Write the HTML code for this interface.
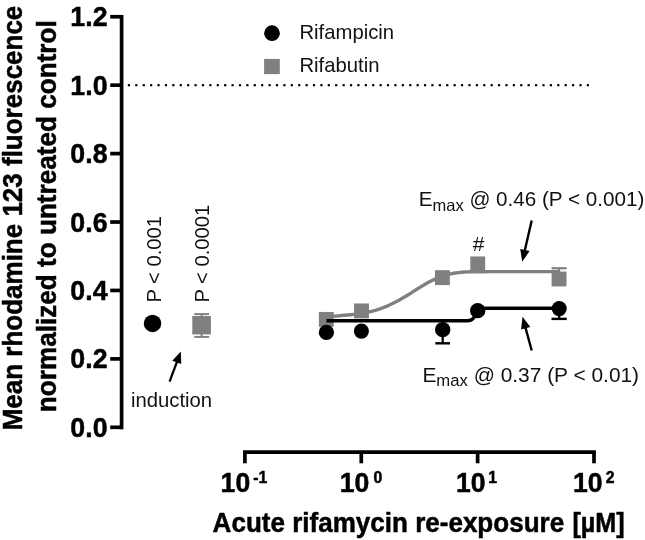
<!DOCTYPE html>
<html><head><meta charset="utf-8"><title>chart</title>
<style>
html,body{margin:0;padding:0;background:#fff;}
svg{display:block;will-change:transform;}
text{font-family:"Liberation Sans",sans-serif;}
.b{font-weight:bold;font-size:26px;fill:#000;stroke:#000;stroke-width:0.5px;stroke-linejoin:round;}
.r{font-size:20px;fill:#111;}
</style></head>
<body>
<svg width="645" height="540" viewBox="0 0 645 540">
<rect width="645" height="540" fill="#fff"/>
<rect x="127.85" y="84.08" width="2.2" height="2.2" fill="#000"/>
<rect x="135.25" y="84.08" width="2.2" height="2.2" fill="#000"/>
<rect x="142.65" y="84.08" width="2.2" height="2.2" fill="#000"/>
<rect x="150.06" y="84.08" width="2.2" height="2.2" fill="#000"/>
<rect x="157.46" y="84.08" width="2.2" height="2.2" fill="#000"/>
<rect x="164.86" y="84.08" width="2.2" height="2.2" fill="#000"/>
<rect x="172.26" y="84.08" width="2.2" height="2.2" fill="#000"/>
<rect x="179.67" y="84.08" width="2.2" height="2.2" fill="#000"/>
<rect x="187.07" y="84.08" width="2.2" height="2.2" fill="#000"/>
<rect x="194.47" y="84.08" width="2.2" height="2.2" fill="#000"/>
<rect x="201.87" y="84.08" width="2.2" height="2.2" fill="#000"/>
<rect x="209.28" y="84.08" width="2.2" height="2.2" fill="#000"/>
<rect x="216.68" y="84.08" width="2.2" height="2.2" fill="#000"/>
<rect x="224.08" y="84.08" width="2.2" height="2.2" fill="#000"/>
<rect x="231.48" y="84.08" width="2.2" height="2.2" fill="#000"/>
<rect x="238.89" y="84.08" width="2.2" height="2.2" fill="#000"/>
<rect x="246.29" y="84.08" width="2.2" height="2.2" fill="#000"/>
<rect x="253.69" y="84.08" width="2.2" height="2.2" fill="#000"/>
<rect x="261.09" y="84.08" width="2.2" height="2.2" fill="#000"/>
<rect x="268.50" y="84.08" width="2.2" height="2.2" fill="#000"/>
<rect x="275.90" y="84.08" width="2.2" height="2.2" fill="#000"/>
<rect x="283.30" y="84.08" width="2.2" height="2.2" fill="#000"/>
<rect x="290.70" y="84.08" width="2.2" height="2.2" fill="#000"/>
<rect x="298.11" y="84.08" width="2.2" height="2.2" fill="#000"/>
<rect x="305.51" y="84.08" width="2.2" height="2.2" fill="#000"/>
<rect x="312.91" y="84.08" width="2.2" height="2.2" fill="#000"/>
<rect x="320.31" y="84.08" width="2.2" height="2.2" fill="#000"/>
<rect x="327.72" y="84.08" width="2.2" height="2.2" fill="#000"/>
<rect x="335.12" y="84.08" width="2.2" height="2.2" fill="#000"/>
<rect x="342.52" y="84.08" width="2.2" height="2.2" fill="#000"/>
<rect x="349.92" y="84.08" width="2.2" height="2.2" fill="#000"/>
<rect x="357.32" y="84.08" width="2.2" height="2.2" fill="#000"/>
<rect x="364.73" y="84.08" width="2.2" height="2.2" fill="#000"/>
<rect x="372.13" y="84.08" width="2.2" height="2.2" fill="#000"/>
<rect x="379.53" y="84.08" width="2.2" height="2.2" fill="#000"/>
<rect x="386.93" y="84.08" width="2.2" height="2.2" fill="#000"/>
<rect x="394.34" y="84.08" width="2.2" height="2.2" fill="#000"/>
<rect x="401.74" y="84.08" width="2.2" height="2.2" fill="#000"/>
<rect x="409.14" y="84.08" width="2.2" height="2.2" fill="#000"/>
<rect x="416.54" y="84.08" width="2.2" height="2.2" fill="#000"/>
<rect x="423.95" y="84.08" width="2.2" height="2.2" fill="#000"/>
<rect x="431.35" y="84.08" width="2.2" height="2.2" fill="#000"/>
<rect x="438.75" y="84.08" width="2.2" height="2.2" fill="#000"/>
<rect x="446.15" y="84.08" width="2.2" height="2.2" fill="#000"/>
<rect x="453.56" y="84.08" width="2.2" height="2.2" fill="#000"/>
<rect x="460.96" y="84.08" width="2.2" height="2.2" fill="#000"/>
<rect x="468.36" y="84.08" width="2.2" height="2.2" fill="#000"/>
<rect x="475.76" y="84.08" width="2.2" height="2.2" fill="#000"/>
<rect x="483.17" y="84.08" width="2.2" height="2.2" fill="#000"/>
<rect x="490.57" y="84.08" width="2.2" height="2.2" fill="#000"/>
<rect x="497.97" y="84.08" width="2.2" height="2.2" fill="#000"/>
<rect x="505.37" y="84.08" width="2.2" height="2.2" fill="#000"/>
<rect x="512.78" y="84.08" width="2.2" height="2.2" fill="#000"/>
<rect x="520.18" y="84.08" width="2.2" height="2.2" fill="#000"/>
<rect x="527.58" y="84.08" width="2.2" height="2.2" fill="#000"/>
<rect x="534.98" y="84.08" width="2.2" height="2.2" fill="#000"/>
<rect x="542.39" y="84.08" width="2.2" height="2.2" fill="#000"/>
<rect x="549.79" y="84.08" width="2.2" height="2.2" fill="#000"/>
<rect x="557.19" y="84.08" width="2.2" height="2.2" fill="#000"/>
<rect x="564.59" y="84.08" width="2.2" height="2.2" fill="#000"/>
<rect x="572.00" y="84.08" width="2.2" height="2.2" fill="#000"/>
<rect x="579.40" y="84.08" width="2.2" height="2.2" fill="#000"/>
<rect x="586.80" y="84.08" width="2.2" height="2.2" fill="#000"/>
<line x1="121.6" y1="14.90" x2="121.6" y2="429.15" stroke="#000" stroke-width="3.7"/>
<line x1="110.2" y1="427.30" x2="121.6" y2="427.30" stroke="#000" stroke-width="3.7"/>
<text class="b" style="font-size:28.5px" transform="translate(107.50,436.80) scale(0.938,1)" text-anchor="end">0.0</text>
<line x1="110.2" y1="358.88" x2="121.6" y2="358.88" stroke="#000" stroke-width="3.7"/>
<text class="b" style="font-size:28.5px" transform="translate(107.50,368.38) scale(0.938,1)" text-anchor="end">0.2</text>
<line x1="110.2" y1="290.45" x2="121.6" y2="290.45" stroke="#000" stroke-width="3.7"/>
<text class="b" style="font-size:28.5px" transform="translate(107.50,299.95) scale(0.938,1)" text-anchor="end">0.4</text>
<line x1="110.2" y1="222.02" x2="121.6" y2="222.02" stroke="#000" stroke-width="3.7"/>
<text class="b" style="font-size:28.5px" transform="translate(107.50,231.52) scale(0.938,1)" text-anchor="end">0.6</text>
<line x1="110.2" y1="153.60" x2="121.6" y2="153.60" stroke="#000" stroke-width="3.7"/>
<text class="b" style="font-size:28.5px" transform="translate(107.50,163.10) scale(0.938,1)" text-anchor="end">0.8</text>
<line x1="110.2" y1="85.18" x2="121.6" y2="85.18" stroke="#000" stroke-width="3.7"/>
<text class="b" style="font-size:28.5px" transform="translate(107.50,94.68) scale(0.938,1)" text-anchor="end">1.0</text>
<line x1="110.2" y1="16.75" x2="121.6" y2="16.75" stroke="#000" stroke-width="3.7"/>
<text class="b" style="font-size:28.5px" transform="translate(107.50,26.25) scale(0.938,1)" text-anchor="end">1.2</text>
<text class="b" style="font-size:27.8px" transform="translate(22.20,218.00) rotate(-90) scale(0.935,1)" text-anchor="middle">Mean rhodamine 123 fluorescence</text>
<text class="b" style="font-size:27.8px" transform="translate(55.80,216.20) rotate(-90) scale(0.94,1)" text-anchor="middle">normalized to untreated control</text>
<line x1="243.05" y1="452.05" x2="595.85" y2="452.05" stroke="#000" stroke-width="3.7"/>
<line x1="244.90" y1="452.05" x2="244.90" y2="463.3" stroke="#000" stroke-width="3.7"/>
<line x1="361.27" y1="452.05" x2="361.27" y2="463.3" stroke="#000" stroke-width="3.7"/>
<line x1="477.63" y1="452.05" x2="477.63" y2="463.3" stroke="#000" stroke-width="3.7"/>
<line x1="594.00" y1="452.05" x2="594.00" y2="463.3" stroke="#000" stroke-width="3.7"/>
<text class="b" style="font-size:27.8px" transform="translate(220.60,491.80) scale(0.957,1)" text-anchor="start">10</text>
<text class="b" style="font-size:16.5px" transform="translate(253.20,482.80) scale(0.957,1)" text-anchor="start">-1</text>
<text class="b" style="font-size:27.8px" transform="translate(339.70,491.80) scale(0.957,1)" text-anchor="start">10</text>
<text class="b" style="font-size:16.5px" transform="translate(373.50,482.80) scale(0.957,1)" text-anchor="start">0</text>
<text class="b" style="font-size:27.8px" transform="translate(456.00,491.80) scale(0.957,1)" text-anchor="start">10</text>
<text class="b" style="font-size:16.5px" transform="translate(488.20,482.80) scale(0.957,1)" text-anchor="start">1</text>
<text class="b" style="font-size:27.8px" transform="translate(572.90,491.80) scale(0.957,1)" text-anchor="start">10</text>
<text class="b" style="font-size:16.5px" transform="translate(605.70,482.80) scale(0.957,1)" text-anchor="start">2</text>
<text class="b" style="font-size:27.8px" transform="translate(212.60,531.80) scale(0.937,1)" text-anchor="start">Acute rifamycin re-exposure</text>
<text class="b" style="font-size:27.8px" transform="translate(624.60,531.80) scale(0.905,1)" text-anchor="end">[µM]</text>
<circle cx="272" cy="33.2" r="7.85" fill="#000"/>
<rect x="264.1" y="58.9" width="15.7" height="15.2" fill="#808080"/>
<text class="r" style="font-size:20.25px" transform="translate(299.50,39.30)" text-anchor="start">Rifampicin</text>
<text class="r" style="font-size:20.25px" transform="translate(299.50,72.00)" text-anchor="start">Rifabutin</text>
<path d="M326.5,317.07 L329.5,316.71 L332.5,316.39 L335.5,316.10 L338.5,315.82 L341.5,315.56 L344.5,315.29 L347.5,315.01 L350.5,314.71 L353.5,314.39 L356.5,314.02 L359.5,313.61 L362.5,313.15 L365.5,312.62 L368.5,312.01 L371.5,311.32 L374.5,310.54 L377.5,309.66 L380.5,308.66 L383.5,307.55 L386.5,306.33 L389.5,305.00 L392.5,303.58 L395.5,302.06 L398.5,300.46 L401.5,298.78 L404.5,297.03 L407.5,295.21 L410.5,293.33 L413.5,291.43 L416.5,289.51 L419.5,287.62 L422.5,285.78 L425.5,284.02 L428.5,282.36 L431.5,280.81 L434.5,279.39 L437.5,278.09 L440.5,276.92 L443.5,275.87 L446.5,274.95 L449.5,274.17 L452.5,273.52 L455.5,273.00 L458.5,272.58 L461.5,272.27 L464.5,272.04 L467.5,271.88 L470.5,271.78 L473.5,271.72 L476.5,271.70 L479.5,271.69 L482.5,271.69 L485.5,271.68 L488.5,271.65 L559.0,271.60" fill="none" stroke="#808080" stroke-width="3.4" stroke-linejoin="round"/>
<line x1="559.1" y1="278" x2="559.1" y2="268.3" stroke="#808080" stroke-width="2.2"/>
<line x1="551.6" y1="268.25" x2="566.6" y2="268.25" stroke="#808080" stroke-width="2.2"/>
<rect x="318.85" y="311.95" width="14.9" height="14.9" fill="#808080"/>
<rect x="354.05" y="303.45" width="14.9" height="14.9" fill="#808080"/>
<rect x="434.95" y="270.20" width="14.9" height="14.9" fill="#808080"/>
<rect x="470.30" y="256.45" width="14.9" height="14.9" fill="#808080"/>
<rect x="551.60" y="271.55" width="14.9" height="14.9" fill="#808080"/>
<path d="M326.4,320.8 L467.5,320.8 Q471.2,320.8 473.2,318.4 L478,312.4 Q479.8,308.3 483,308.3 L559.4,308.3" fill="none" stroke="#000" stroke-width="3.4" stroke-linejoin="round"/>
<line x1="442.7" y1="329.7" x2="442.7" y2="343.3" stroke="#000" stroke-width="2.3"/>
<line x1="435.3" y1="343.3" x2="450.0" y2="343.3" stroke="#000" stroke-width="2.4"/>
<line x1="559.2" y1="308.6" x2="559.2" y2="318.9" stroke="#000" stroke-width="2.3"/>
<line x1="551.5" y1="318.9" x2="566.8" y2="318.9" stroke="#000" stroke-width="2.4"/>
<circle cx="326.4" cy="332.4" r="7.65" fill="#000"/>
<circle cx="361.4" cy="331.1" r="7.55" fill="#000"/>
<circle cx="442.7" cy="329.7" r="7.65" fill="#000"/>
<circle cx="477.7" cy="310.65" r="7.65" fill="#000"/>
<circle cx="559.2" cy="308.6" r="7.55" fill="#000"/>
<circle cx="152.55" cy="323.4" r="8.75" fill="#000"/>
<line x1="201.6" y1="314.1" x2="201.6" y2="336.9" stroke="#808080" stroke-width="2"/>
<line x1="194.3" y1="314.1" x2="209.1" y2="314.1" stroke="#808080" stroke-width="2"/>
<line x1="194.3" y1="336.9" x2="209.1" y2="336.9" stroke="#808080" stroke-width="2"/>
<rect x="192.3" y="316" width="18.6" height="18.4" fill="#808080"/>
<text class="r" style="font-size:20.2px" transform="translate(161.30,302.60) rotate(-90)" text-anchor="start">P &lt; 0.001</text>
<text class="r" style="font-size:20.2px" transform="translate(209.00,302.60) rotate(-90)" text-anchor="start">P &lt; 0.0001</text>
<text class="r" style="font-size:19.5px" transform="translate(131.00,406.80) scale(1.04,1)" text-anchor="start">induction</text>
<text class="r" style="font-size:21px" transform="translate(478.60,250.70)" text-anchor="middle">#</text>
<text class="r" style="font-size:20.65px" x="418.7" y="206.3">E<tspan style="font-size:16.5px" dy="4.4">max</tspan><tspan dy="-4.4"> @ 0.46 (P &lt; 0.001)</tspan></text>
<text class="r" style="font-size:20.9px" x="422.4" y="381.5">E<tspan style="font-size:16.7px" dy="4.4">max</tspan><tspan dy="-4.4"> @ 0.37 (P &lt; 0.01)</tspan></text>
<line x1="531.70" y1="220.60" x2="524.68" y2="250.98" stroke="#000" stroke-width="2.4"/>
<polygon points="522.20,261.70 520.23,248.93 529.58,251.09" fill="#000"/>
<line x1="531.70" y1="350.55" x2="525.42" y2="327.32" stroke="#000" stroke-width="2.4"/>
<polygon points="522.55,316.70 530.32,327.03 521.05,329.54" fill="#000"/>
<line x1="169.60" y1="381.55" x2="177.12" y2="361.43" stroke="#000" stroke-width="2.3"/>
<polygon points="180.80,351.60 181.27,364.05 172.28,360.69" fill="#000"/>
</svg>
</body></html>
